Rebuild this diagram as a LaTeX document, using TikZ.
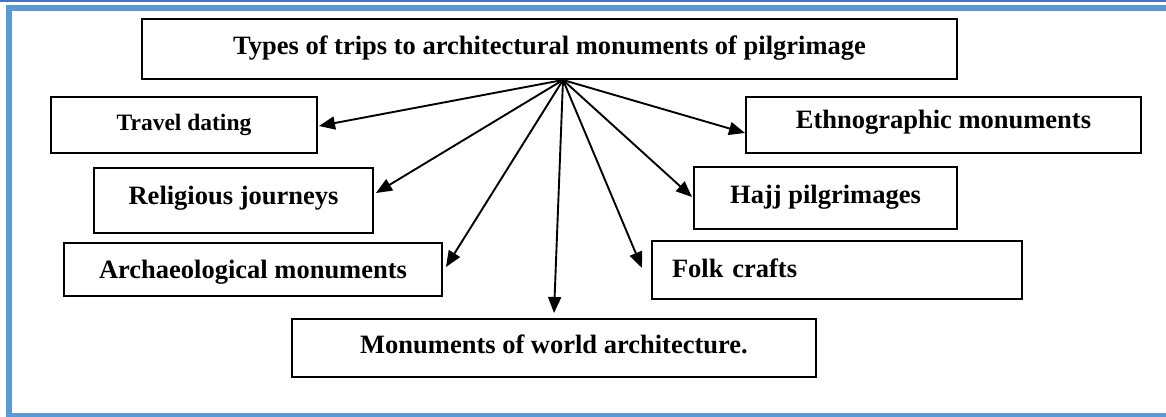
\documentclass[tikz,border=0pt]{standalone}
\usepackage{fontspec}
\setmainfont{Liberation Serif}
\usetikzlibrary{arrows.meta}
\definecolor{frameblue}{HTML}{5B9BD5}
\definecolor{framedark}{HTML}{4472C4}
\tikzset{
  box/.style={draw=black, line width=2pt, fill=white, inner sep=0pt,
    font=\bfseries\fontsize{26.5}{30}\selectfont, text depth=8pt},
  conn/.style={draw=black, line width=1.9pt, -{Triangle[length=16pt,width=13pt]}}
}
\begin{document}
\begin{tikzpicture}[x=1pt,y=-1pt]
\useasboundingbox (0,0) rectangle (1166,417);
\begin{scope}
\clip (0,0) rectangle (1166,417);
\fill[white] (0,0) rectangle (1166,417);
\draw[framedark, line width=2.4pt] (0,1) -- (1166,1);
\draw[frameblue, line width=6.5pt] (9,8) rectangle (1190,416);
\end{scope}
\node[box, minimum width=815pt, minimum height=60pt, text height=20pt] (title) at (549.5,49) {Types of trips to architectural monuments of pilgrimage};
\node[box, minimum width=266pt, minimum height=56pt, text height=19pt, font=\bfseries\fontsize{23.5}{27}\selectfont] (travel) at (184,125) {Travel dating};
\node[box, minimum width=395pt, minimum height=56pt, text height=15pt] (ethno) at (943.5,125) {Ethnographic monuments};
\node[box, minimum width=279pt, minimum height=65pt, text height=16pt] (relig) at (233.5,200.5) {Religious journeys};
\node[box, minimum width=263pt, minimum height=62pt, text height=19pt] (hajj) at (825.5,198) {Hajj pilgrimages};
\node[box, minimum width=378pt, minimum height=53pt, text height=25pt] (arch) at (253,269.5) {Archaeological monuments};
\node[box, minimum width=370pt, minimum height=58pt, text height=22pt, text width=330pt, align=left] (folk) at (837,270) {Folk crafts};
\node[box, minimum width=524pt, minimum height=58pt, text height=19pt] (world) at (554,348) {Monuments of world architecture.};
\coordinate (hub) at ([xshift=13.5pt]title.south);
\draw[conn] (hub) -- ([xshift=1pt,yshift=-1pt]travel.east);
\draw[conn] (hub) -- ([xshift=2pt,yshift=7.5pt]relig.east);
\draw[conn] (hub) -- ([xshift=3pt,yshift=2.5pt]arch.east);
\draw[conn] (hub) -- ([yshift=5pt]world.north);
\draw[conn] (hub) -- ([xshift=-9pt,yshift=2pt]folk.west);
\draw[conn] (hub) -- ([xshift=-1pt,yshift=1pt]hajj.west);
\draw[conn] (hub) -- ([yshift=-8pt]ethno.west);
\end{tikzpicture}
\end{document}
